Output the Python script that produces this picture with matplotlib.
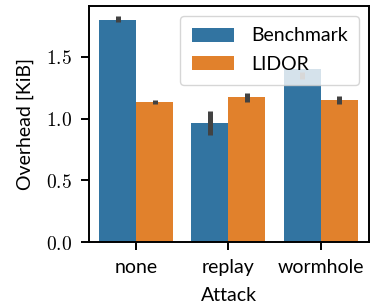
import numpy as np
import matplotlib
matplotlib.use("Agg")
import matplotlib.pyplot as plt
from matplotlib.ticker import FuncFormatter

plt.rcParams['font.family'] = ['Lato', 'DejaVu Sans']
plt.rcParams['mathtext.fontset'] = 'cm'

attacks = ["none", "replay", "wormhole"]
series = ["Benchmark", "LIDOR"]
means = {"Benchmark": [1.80, 0.96, 1.40],
         "LIDOR": [1.135, 1.175, 1.153]}
ci_low = {"Benchmark": [1.78, 0.87, 1.32],
          "LIDOR": [1.12, 1.13, 1.12]}
ci_high = {"Benchmark": [1.83, 1.06, 1.38],
           "LIDOR": [1.15, 1.21, 1.18]}
colors = ["#3274a1", "#e1812c"]

fig, ax = plt.subplots(figsize=(3.75, 3.03), dpi=100)
x = np.arange(len(attacks))
w = 0.4
for i, s in enumerate(series):
    pos = x - w / 2 + i * w
    ax.bar(pos, means[s], width=w, color=colors[i], label=s, zorder=2)
    ax.vlines(pos, ci_low[s], ci_high[s], color="#424242", lw=3.6, zorder=3)

ax.set_xticks(x)
ax.set_xticklabels(attacks)
ax.set_xlim(-0.51, 2.52)
ax.set_ylim(0, 1.91)
ax.set_yticks([0, 0.5, 1.0, 1.5])
ax.yaxis.set_major_formatter(FuncFormatter(lambda v, p: "$%.1f$" % v))
ax.tick_params(labelsize=14, length=6, width=1.4, pad=6)
ax.set_xlabel("Attack", fontsize=14, labelpad=8)
ax.set_ylabel("Overhead [KiB]", fontsize=14, labelpad=9)
for sp in ax.spines.values():
    sp.set_linewidth(1.4)
ax.legend(loc="upper right", fontsize=14, handlelength=2.2, handleheight=0.75,
          handletextpad=0.85, labelspacing=0.6, borderpad=0.6,
          framealpha=0.8, borderaxespad=0.5)

fig.subplots_adjust(left=0.237, right=0.984, top=0.98, bottom=0.201)
fig.savefig("out.png", dpi=100)
